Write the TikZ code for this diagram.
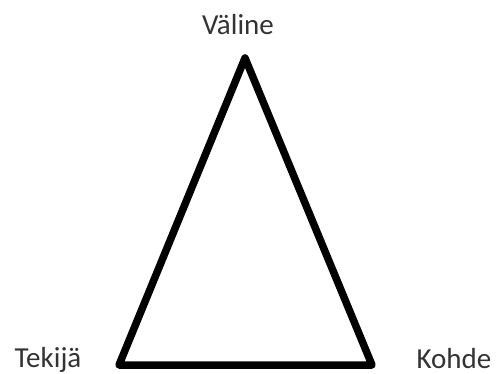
\documentclass[tikz,border=0pt]{standalone}
\usepackage{fontspec}
\setmainfont{Carlito}
\usetikzlibrary{positioning}

\begin{document}
\begin{tikzpicture}[x=1pt, y=-1pt, line join=round,
    label/.style={anchor=base, font=\fontsize{29}{33}\selectfont, text=black!80}]
    \useasboundingbox (0,0) rectangle (497,374);
    \coordinate (valine) at (245,58);
    \coordinate (tekija) at (119,365);
    \coordinate (kohde) at (372,365);
    \draw[line width=7.5pt] (valine)--(kohde)--(tekija)--cycle;

    \node[label] (valinetext) at (238,35) {Väline};
    \node[label] (tekijatext) at (48,367) {Tekijä};
    \node[label] (kohdetext) at (454,368) {Kohde};
\end{tikzpicture}
\end{document}
